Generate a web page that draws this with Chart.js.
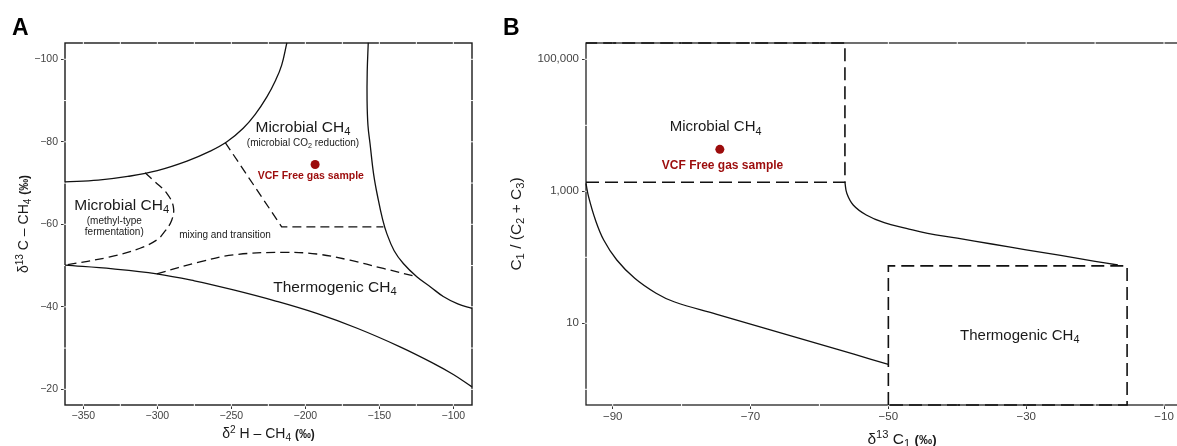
<!DOCTYPE html>
<html lang="en">
<head>
<meta charset="UTF-8">
<script src="https://cdn.jsdelivr.net/npm/chart.js"></script>
<title>Methane source diagrams</title>
<style>
  html, body { margin: 0; padding: 0; background: #fff; overflow: hidden; width: 1177px; height: 446px; }
  #wrapA { position: absolute; left: 0; top: 0; width: 480px; height: 446px; }
  #wrapB { position: absolute; left: 490px; top: 0; width: 740px; height: 446px; }
</style>
</head>
<body>
<div id="wrapA"><canvas id="chartA" width="480" height="446"></canvas></div>
<div id="wrapB"><canvas id="chartB" width="740" height="446"></canvas></div>
<script>
// ---- Panel A : d2H-CH4 vs d13C-CH4 ----
const xTicksA = [-350, -300, -250, -200, -150, -100];
const yTicksA = [-100, -80, -60, -40, -20];

// upper-left solid boundary
const aUpperX = [-362.4, -340, -320, -300, -280, -265, -253, -242, -234, -226, -220, -216, -212.5];
const aUpperY = [-70.3, -70.7, -71.6, -73.0, -75.3, -77.6, -80.0, -83.3, -86.6, -90.9, -95.0, -98.6, -104];
// right solid boundary
const aRightX = [-157.5, -158.2, -158.3, -157.7, -156.3, -153.8, -150.7, -148, -145, -140, -133.8, -124.7, -115, -106.8, -97, -87.4];
const aRightY = [-104, -97, -90, -84, -79.6, -72, -65.9, -61.5, -57.8, -53.6, -50.5, -47.3, -44.7, -42.5, -40.7, -39.6];
// lower solid boundary
const aLowerX = [-362.4, -330, -300.4, -275, -248.6, -220, -192.3, -165, -136, -113.5, -100, -87.4];
const aLowerY = [-50.1, -49.2, -48.0, -46.3, -44.1, -41.4, -38.4, -34.8, -30.3, -26.3, -23.6, -20.6];
// dashed: methyl-type fermentation field
const aMethylX = [-308.3, -301.6, -293.6, -289.2, -290.3, -296, -300.4, -311.7, -332, -362.4];
const aMethylY = [-72.5, -70.3, -67.5, -64.3, -61.0, -57.8, -56.2, -54.2, -52.1, -50.1];
// dashed: CO2 reduction field
const aCo2X = [-254.1, -216, -147.3];
const aCo2Y = [-79.8, -59.4, -59.4];
// dashed: thermogenic field
const aThermoX = [-300.4, -271.2, -248.6, -214.9, -192.3, -169.8, -147.3, -124.7];
const aThermoY = [-48.0, -50.9, -52.6, -53.2, -52.8, -51.3, -49.3, -47.3];
// sample
const aSampleX = [-193.4];
const aSampleY = [-74.5];

// ---- Panel B : d13C1 vs C1/(C2+C3) ----
const xTicksB = [-90, -70, -50, -30, -10];
const yTicksB = [10, 1000, 100000];

const bMicroBoxX = [-93.87, -56.3, -56.3, -93.87];
const bMicroBoxY = [1368, 1368, 176600, 176600];
const bThermoBoxX = [-50, -50, -15.36, -15.36, -50];
const bThermoBoxY = [0.578, 74, 74, 0.578, 0.578];
const bUpperX = [-56.3, -56.03, -55.1, -53.2, -50.6, -47.4, -44.3, -40, -35, -30, -25, -20, -16.7];
const bUpperY = [1368, 933, 620, 437, 334, 275, 231, 195, 159, 130, 107, 87, 76.4];
const bLowerX = [-93.87, -93.5, -92.5, -91.3, -89.4, -86.8, -83.7, -81.1, -75, -70, -65, -60, -55, -50];
const bLowerY = [1320, 829, 367, 183, 91, 48, 28.5, 21.2, 13.8, 9.75, 6.87, 4.83, 3.4, 2.39];
const bSampleX = [-74.45];
const bSampleY = [4325];

const FAM = '"Liberation Sans", Arial, Helvetica, sans-serif';
const RED = '#9c0c0c';
const INK = '#1a1a1a';

function toPoints(xs, ys) {
    return xs.map((x, i) => ({ x: x, y: ys[i] }));
}

function curve(xs, ys, dash, tension, width) {
    return {
        data: toPoints(xs, ys),
        showLine: true,
        pointRadius: 0,
        borderColor: '#111',
        borderWidth: width || 1.3,
        borderDash: dash,
        tension: tension,
        fill: false,
        clip: 3
    };
}

function dot(xs, ys) {
    return { data: toPoints(xs, ys), showLine: false, pointRadius: 4.5, backgroundColor: RED, borderWidth: 0 };
}

// minus sign like the original
function fmtMinus(v) {
    return v < 0 ? '\u2212' + Math.abs(v) : String(v);
}

// small rich text: _{sub} ^{sup} *{bold}
function parseRich(str) {
    const parts = [];
    const re = /([_^*])\{([^}]*)\}|([^_^*]+)/g;
    let m;
    while ((m = re.exec(str))) {
        if (m[1]) parts.push({ t: m[2], k: m[1] });
        else parts.push({ t: m[3], k: '' });
    }
    return parts;
}

function drawRich(ctx, str, x, y, size, o) {
    o = o || {};
    const parts = parseRich(str);
    const fontOf = p => {
        const small = p.k === '_' || p.k === '^';
        const s = small ? size * 0.72 : (p.k === '*' ? size * 0.85 : size);
        return ((o.bold || p.k === '*') ? 'bold ' : '') + s.toFixed(1) + 'px ' + FAM;
    };
    ctx.save();
    ctx.translate(x, y);
    if (o.rotate) ctx.rotate(-Math.PI / 2);
    ctx.fillStyle = o.color || INK;
    ctx.textBaseline = 'alphabetic';
    ctx.textAlign = 'left';
    let w = 0;
    parts.forEach(p => { ctx.font = fontOf(p); p.w = ctx.measureText(p.t).width; w += p.w; });
    let cx = -w / 2;
    const base = size * 0.36;
    parts.forEach(p => {
        ctx.font = fontOf(p);
        const dy = p.k === '^' ? -size * 0.38 : (p.k === '_' ? size * 0.22 : 0);
        ctx.fillText(p.t, cx, base + dy);
        cx += p.w;
    });
    ctx.restore();
}

// panel border with the thin white grid breaks
const framePlugin = {
    id: 'frame',
    beforeDatasetsDraw(chart, args, opts) {
        const ctx = chart.ctx, a = chart.chartArea, sx = chart.scales.x, sy = chart.scales.y;
        ctx.save();
        ctx.strokeStyle = opts.color || INK;
        ctx.lineWidth = opts.width || 1.4;
        ctx.strokeRect(a.left, a.top, a.right - a.left, a.bottom - a.top);
        ctx.strokeStyle = '#fff';
        ctx.lineWidth = 1;
        ctx.beginPath();
        (opts.xBreaks || []).forEach(v => {
            const p = sx.getPixelForValue(v);
            if (p > a.left + 2 && p < a.right - 2) {
                ctx.moveTo(p, a.top - 1.5); ctx.lineTo(p, a.top + 1.5);
                ctx.moveTo(p, a.bottom - 1.5); ctx.lineTo(p, a.bottom + 1.5);
            }
        });
        (opts.yBreaks || []).forEach(v => {
            const p = sy.getPixelForValue(v);
            if (p > a.top + 2 && p < a.bottom - 2) {
                ctx.moveTo(a.left - 1.5, p); ctx.lineTo(a.left + 1.5, p);
                ctx.moveTo(a.right - 1.5, p); ctx.lineTo(a.right + 1.5, p);
            }
        });
        ctx.stroke();
        ctx.restore();
    }
};

// annotations and axis titles
const textPlugin = {
    id: 'texts',
    afterDraw(chart, args, opts) {
        const ctx = chart.ctx, a = chart.chartArea, sx = chart.scales.x, sy = chart.scales.y;
        (opts.labels || []).forEach(l => {
            drawRich(ctx, l.t, sx.getPixelForValue(l.x), sy.getPixelForValue(l.y), l.size, { bold: l.bold, color: l.color });
        });
        drawRich(ctx, opts.xTitle, (a.left + a.right) / 2, opts.xTitleY, opts.titleSize);
        drawRich(ctx, opts.yTitle, opts.yTitleX, (a.top + a.bottom) / 2, opts.titleSize, { rotate: true });
        ctx.save();
        ctx.fillStyle = '#000';
        ctx.font = 'bold 23px ' + FAM;
        ctx.textBaseline = 'alphabetic';
        ctx.fillText(opts.letter, opts.letterX, 35);
        ctx.restore();
    }
};

function axis(min, max, ticks, fmt, size, fit) {
    return {
        min: min,
        max: max,
        afterBuildTicks: s => { s.ticks = ticks.map(v => ({ value: v })); },
        afterFit: fit,
        ticks: { color: '#444', font: { family: FAM, size: size }, padding: 2, callback: fmt, maxRotation: 0, autoSkip: false },
        grid: { display: true, drawOnChartArea: false, drawTicks: true, tickLength: 4, tickColor: '#333', tickWidth: 1 },
        border: { display: false }
    };
}

// minor positions between majors
function linBreaks(ticks, min, max) {
    const step = ticks[1] - ticks[0], out = [];
    for (let v = ticks[0] - step; v <= ticks[ticks.length - 1] + step; v += step / 2) {
        if (v > min && v < max) out.push(v);
    }
    return out;
}

const axA_x = axis(-362.4, -87.4, xTicksA, fmtMinus, 10.5, s => { s.height = 41; });
axA_x.ticks.padding = 1;
const axA_y = axis(-103.95, -16.2, yTicksA, fmtMinus, 10.5, s => { s.width = 65; });
axA_y.reverse = true;
axA_y.ticks.padding = 3;

new Chart(document.getElementById('chartA'), {
    type: 'scatter',
    data: {
        datasets: [
            curve(aUpperX, aUpperY, [], 0.4),
            curve(aRightX, aRightY, [], 0.4),
            curve(aLowerX, aLowerY, [], 0.4),
            curve(aMethylX, aMethylY, [9, 5], 0.4),
            curve(aCo2X, aCo2Y, [9, 5], 0),
            curve(aThermoX, aThermoY, [9, 5], 0.4),
            dot(aSampleX, aSampleY)
        ]
    },
    options: {
        responsive: false,
        animation: false,
        devicePixelRatio: 1,
        layout: { padding: { top: 43, right: 8, left: 0, bottom: 0 } },
        plugins: {
            legend: { display: false },
            tooltip: { enabled: false },
            frame: { xBreaks: linBreaks(xTicksA, -362.4, -87.4), yBreaks: linBreaks(yTicksA, -103.95, -16.2) },
            texts: {
                labels: [
                    { t: 'Microbial CH_{4}', x: -201.6, y: -83.8, size: 15.5 },
                    { t: '(microbial CO_{2} reduction)', x: -201.6, y: -79.8, size: 10 },
                    { t: 'VCF Free gas sample', x: -196.3, y: -71.8, size: 10.5, bold: true, color: RED },
                    { t: 'Microbial CH_{4}', x: -324.1, y: -64.9, size: 15.5 },
                    { t: '(methyl-type', x: -329.1, y: -60.9, size: 10 },
                    { t: 'fermentation)', x: -329.1, y: -58.2, size: 10 },
                    { t: 'mixing and transition', x: -254.3, y: -57.6, size: 10 },
                    { t: 'Thermogenic CH_{4}', x: -180, y: -45.0, size: 15.5 }
                ],
                xTitle: '\u03b4^{2} H \u2013 CH_{4} *{(\u2030)}',
                yTitle: '\u03b4^{13} C \u2013 CH_{4} *{(\u2030)}',
                xTitleY: 433,
                yTitleX: 23,
                titleSize: 14,
                letter: 'A',
                letterX: 12
            }
        },
        scales: { x: axA_x, y: axA_y }
    },
    plugins: [framePlugin, textPlugin]
});

const axB_x = axis(-93.87, -2.17, xTicksB, fmtMinus, 11.5, s => { s.height = 41; });
axB_x.ticks.padding = 1;
const axB_y = axis(0.578, 176600, yTicksB, v => Number(v).toLocaleString('en-US'), 11.5, s => { s.width = 96; });
axB_y.type = 'logarithmic';
axB_y.ticks.padding = 3;

new Chart(document.getElementById('chartB'), {
    type: 'scatter',
    data: {
        datasets: [
            curve(bMicroBoxX, bMicroBoxY, [13, 6], 0, 1.6),
            curve(bThermoBoxX, bThermoBoxY, [13, 6], 0, 1.6),
            curve(bUpperX, bUpperY, [], 0.4),
            curve(bLowerX, bLowerY, [], 0.4),
            dot(bSampleX, bSampleY)
        ]
    },
    options: {
        responsive: false,
        animation: false,
        devicePixelRatio: 1,
        layout: { padding: { top: 43, right: 12, left: 0, bottom: 0 } },
        plugins: {
            legend: { display: false },
            tooltip: { enabled: false },
            frame: { xBreaks: linBreaks(xTicksB, -93.87, -2.17), yBreaks: [1, 10, 100, 1000, 10000, 100000], color: '#222', width: 1.3 },
            texts: {
                labels: [
                    { t: 'Microbial CH_{4}', x: -75.07, y: 9750, size: 15 },
                    { t: 'VCF Free gas sample', x: -74.06, y: 2566, size: 12, bold: true, color: RED },
                    { t: 'Thermogenic CH_{4}', x: -30.94, y: 6.8, size: 15 }
                ],
                xTitle: '\u03b4^{13} C_{1} *{(\u2030)}',
                yTitle: 'C_{1} / (C_{2} + C_{3})',
                xTitleY: 438,
                yTitleX: 25,
                titleSize: 15.5,
                letter: 'B',
                letterX: 13
            }
        },
        scales: { x: axB_x, y: axB_y }
    },
    plugins: [framePlugin, textPlugin]
});
</script>
</body>
</html>
